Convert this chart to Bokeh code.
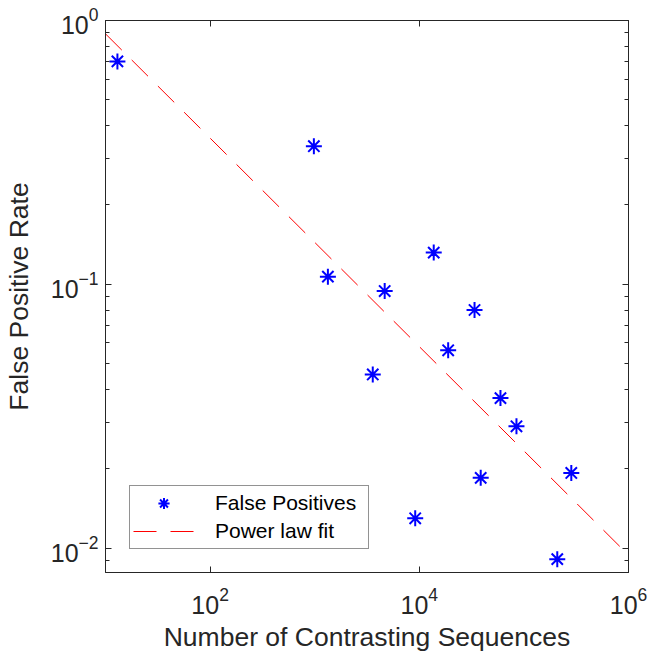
import numpy as np
from bokeh.plotting import figure
from bokeh.models import (LogAxis, FixedTicker, Legend, LegendItem, Range1d,
                          CustomJSTickFormatter)
from bokeh.embed import file_html
from bokeh.resources import INLINE

# ---- data ----
n_sequences = [13, 982, 1337, 3590, 4667, 9140, 13740, 18880, 33730, 38640,
               59700, 84900, 208500, 283900]
false_pos_rate = [0.70, 0.334, 0.107, 0.0456, 0.0944, 0.0130, 0.132, 0.0563,
                  0.080, 0.0185, 0.0371, 0.0290, 0.0091, 0.0193]
fit_coef = 2.21        # power law fit  y = a * x^b
fit_exp = -0.395
x_limits = [10, 1e6]
y_limits = [0.0081, 1.0]
x_ticks = [1e2, 1e4, 1e6]
y_ticks = [1e-2, 1e-1, 1e0]
series_labels = ["False Positives", "Power law fit"]
x_title = "Number of Contrasting Sequences"
y_title = "False Positive Rate"

y_minor = [m * d for d in (1e-3, 1e-2, 1e-1) for m in range(2, 10)
           if y_limits[0] <= m * d <= y_limits[1]]

fit_x = np.array(x_limits, dtype=float)
fit_y = fit_coef * fit_x ** fit_exp

AX = "#262626"
FONT = "Liberation Sans"

p = figure(width=648, height=656, x_axis_type="log", y_axis_type="log",
           x_range=Range1d(*x_limits), y_range=Range1d(*y_limits),
           output_backend="svg", toolbar_location=None,
           min_border_left=103, min_border_right=20, min_border_top=20,
           min_border_bottom=84, background_fill_color="white",
           border_fill_color="white", outline_line_color=AX,
           outline_line_width=1)
p.grid.visible = False

fit_r = p.line(fit_x, fit_y, line_color="#FF0000", line_width=1,
               line_dash="23 14")
pts_r = p.scatter(n_sequences, false_pos_rate, marker="asterisk", size=16,
                  line_color="#0000FF", line_width=2)

xt = FixedTicker(ticks=x_ticks, minor_ticks=[])
yt = FixedTicker(ticks=y_ticks, minor_ticks=y_minor)


def style(ax, labels=True):
    ax.axis_line_color = AX
    ax.axis_line_width = 1
    ax.major_tick_line_color = AX
    ax.minor_tick_line_color = AX
    ax.major_tick_in = 6
    ax.major_tick_out = 0
    ax.minor_tick_in = 4
    ax.minor_tick_out = 0
    ax.major_label_text_color = AX
    ax.major_label_text_font = FONT
    ax.major_label_text_font_size = "25px"
    ax.axis_label_text_color = AX
    ax.axis_label_text_font = FONT
    ax.axis_label_text_font_size = "26.5px"
    ax.axis_label_text_font_style = "normal"
    if not labels:
        ax.formatter = CustomJSTickFormatter(code="return ''")


xa = p.xaxis[0]
xa.ticker = xt
xa.axis_label = x_title
xa.major_label_standoff = 14
xa.axis_label_standoff = 5
style(xa)

ya = p.yaxis[0]
ya.ticker = yt
ya.axis_label = y_title
ya.major_label_standoff = 7
ya.axis_label_standoff = 14
style(ya)

top = LogAxis(ticker=FixedTicker(ticks=x_ticks, minor_ticks=[]))
style(top, labels=False)
p.add_layout(top, "above")
right = LogAxis(ticker=FixedTicker(ticks=y_ticks, minor_ticks=y_minor))
style(right, labels=False)
p.add_layout(right, "right")

legend = Legend(items=[LegendItem(label=series_labels[0], renderers=[pts_r]),
                       LegendItem(label=series_labels[1], renderers=[fit_r])],
                location=(24, 23), margin=0, padding=3, spacing=0,
                glyph_width=61, glyph_height=28, label_standoff=21,
                label_width=150, label_height=20,
                label_text_font=FONT, label_text_font_size="21px",
                label_text_color="#000000",
                border_line_color=AX, border_line_width=1,
                background_fill_color="white", background_fill_alpha=1)
p.add_layout(legend)

open("out.html", "w").write(file_html(p, INLINE))
